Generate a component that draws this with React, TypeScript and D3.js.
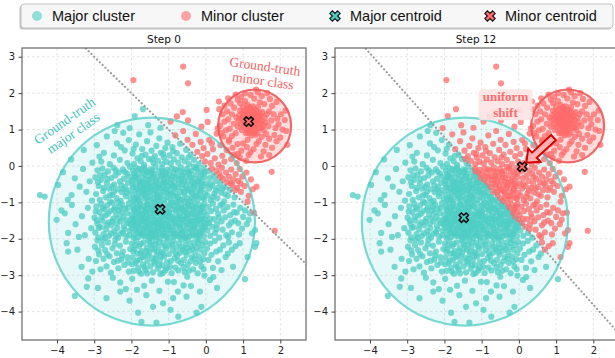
import * as d3 from "d3";
import React, { useRef, useEffect } from "react";

type Pt = [number, number];

// ground-truth major class (y > 0)
const majorTop: Pt[] = [
  [-2.38,1.12],[-1.91,1.37],[-1.69,1.56],[-1.55,1.12],[-1.22,1.05],[-0.95,1.22],[-0.78,1.36],[-0.48,1.25],[-0.12,1.08],[0.32,1.03],[-2.05,1.04],[-0.62,1.48],[0.05,1.21],
  [-3.62,0.18],[-3.28,0.44],[-3.05,0.09],
  [-2.93,0.57],[-2.81,0.12],[-2.74,0.36],[-2.66,0.81],[-2.58,0.05],[-2.47,0.29],[-2.39,0.62],[-2.31,0.17],[-2.22,0.91],[-2.18,0.43],[-2.11,0.08],[-2.07,0.71],[-2.45,0.96],[-2.86,0.26],[-2.28,0.52],
  [-1.97,0.34],[-1.93,0.06],[-1.88,0.59],[-1.84,0.21],[-1.79,0.87],[-1.75,0.13],[-1.71,0.46],[-1.66,0.03],[-1.62,0.31],[-1.58,0.68],[-1.53,0.19],[-1.49,0.92],[-1.46,0.42],[-1.41,0.08],
  [-1.37,0.27],[-1.33,0.55],[-1.29,0.14],[-1.25,0.76],[-1.21,0.36],[-1.17,0.05],[-1.13,0.23],[-1.09,0.49],[-1.06,0.11],[-1.03,0.64],[-1.94,0.47],[-1.72,0.28],[-1.44,0.19],[-1.15,0.33],
  [-0.98,0.29],[-0.94,0.07],[-0.9,0.52],[-0.86,0.18],[-0.82,0.84],[-0.78,0.35],[-0.74,0.09],[-0.69,0.61],[-0.65,0.24],[-0.61,0.96],[-0.57,0.13],[-0.53,0.44],[-0.49,0.72],
  [-0.45,0.05],[-0.41,0.31],[-0.36,0.58],[-0.32,0.17],[-0.27,0.88],[-0.23,0.39],[-0.19,0.06],[-0.14,0.66],[-0.1,0.27],[-0.06,0.49],[-0.02,0.12],[-0.88,0.41],[-0.47,0.23],
  [0.04,0.33],[0.09,0.71],[0.13,0.08],[0.19,0.46],[0.24,0.21],[0.29,0.89],[0.34,0.04],[0.39,0.57],[0.44,0.28],[0.5,0.12],[0.56,0.43],[0.62,0.67],[0.68,0.19],[0.75,0.31],
  [0.83,0.08],[0.91,0.24],[0.16,0.62],[0.47,0.81],[1.08,0.14],
];

// major class, -1 < y < 0
const majorUpper: Pt[] = [
  [-4.46,-0.8],[-4.33,-0.84],
  [-3.97,-0.52],[-3.84,-0.17],[-3.71,-0.93],[-3.61,-0.8],[-3.52,-0.34],[-3.39,-0.57],[-3.3,-0.08],[-3.21,-0.71],[-3.12,-0.42],[-3.06,-0.95],
  [-2.97,-0.31],[-2.95,-0.77],[-2.91,-0.12],[-2.88,-0.55],[-2.85,-0.93],[-2.81,-0.38],[-2.78,-0.07],[-2.76,-0.69],[-2.72,-0.24],[-2.69,-0.86],[-2.66,-0.47],[-2.63,-0.15],
  [-2.6,-0.62],[-2.57,-0.98],[-2.54,-0.33],[-2.51,-0.79],[-2.48,-0.05],[-2.46,-0.51],[-2.43,-0.26],[-2.4,-0.88],[-2.37,-0.64],[-2.34,-0.18],[-2.31,-0.42],[-2.29,-0.96],
  [-2.26,-0.72],[-2.23,-0.09],[-2.2,-0.35],[-2.17,-0.58],[-2.15,-0.83],[-2.12,-0.21],[-2.09,-0.46],[-2.07,-0.67],[-2.04,-0.02],[-2.02,-0.91],[-2.9,-0.44],[-2.74,-0.6],
  [-2.58,-0.81],[-2.42,-0.12],[-2.27,-0.53],[-2.13,-0.74],[-2.06,-0.29],[-2.52,-0.57],[-2.36,-0.99],[-2.84,-0.26],[-2.65,-0.36],[-2.22,-0.64],[-2.47,-0.71],[-2.18,-0.16],
  [-1.99,-0.41],[-1.98,-0.78],[-1.96,-0.13],[-1.95,-0.59],[-1.93,-0.94],[-1.91,-0.27],[-1.9,-0.68],[-1.88,-0.05],[-1.86,-0.49],[-1.85,-0.85],[-1.83,-0.34],[-1.81,-0.72],
  [-1.8,-0.19],[-1.78,-0.56],[-1.76,-0.97],[-1.75,-0.43],[-1.73,-0.11],[-1.71,-0.81],[-1.7,-0.29],[-1.68,-0.63],[-1.66,-0.04],[-1.65,-0.52],[-1.63,-0.89],[-1.61,-0.37],
  [-1.6,-0.74],[-1.58,-0.16],[-1.56,-0.61],[-1.55,-0.95],[-1.53,-0.25],[-1.51,-0.47],[-1.5,-0.83],[-1.48,-0.09],[-1.46,-0.66],[-1.45,-0.33],[-1.43,-0.91],[-1.41,-0.54],
  [-1.4,-0.21],[-1.38,-0.77],[-1.36,-0.44],[-1.35,-0.02],[-1.33,-0.6],[-1.31,-0.87],[-1.3,-0.3],[-1.28,-0.71],[-1.26,-0.14],[-1.25,-0.51],[-1.23,-0.96],[-1.21,-0.38],
  [-1.2,-0.8],[-1.18,-0.07],[-1.16,-0.57],[-1.15,-0.24],[-1.13,-0.69],[-1.11,-0.93],[-1.1,-0.45],[-1.08,-0.18],[-1.06,-0.62],[-1.05,-0.86],[-1.03,-0.32],[-1.01,-0.75],
  [-1.97,-0.52],[-1.94,-0.36],[-1.89,-0.87],[-1.84,-0.63],[-1.79,-0.08],[-1.74,-0.69],[-1.69,-0.46],[-1.64,-0.22],[-1.59,-0.86],[-1.54,-0.39],[-1.49,-0.58],[-1.44,-0.13],
  [-1.39,-0.97],[-1.34,-0.41],[-1.29,-0.55],[-1.24,-0.84],[-1.19,-0.26],[-1.14,-0.47],[-1.09,-0.72],[-1.04,-0.11],[-1.92,-0.21],[-1.82,-0.92],[-1.72,-0.58],[-1.62,-0.66],
  [-1.52,-0.72],[-1.42,-0.28],[-1.32,-0.79],[-1.22,-0.62],[-1.12,-0.35],[-1.02,-0.55],[-1.87,-0.31],[-1.67,-0.76],[-1.47,-0.19],[-1.27,-0.92],[-1.07,-0.44],[-1.57,-0.5],
  [-1.37,-0.66],[-1.17,-0.14],[-1.77,-0.44],[-1.62,-0.12],
  [-0.99,-0.23],[-0.97,-0.66],[-0.96,-0.91],[-0.94,-0.38],[-0.92,-0.07],[-0.9,-0.54],[-0.88,-0.82],[-0.87,-0.19],[-0.85,-0.45],[-0.83,-0.73],[-0.81,-0.31],[-0.8,-0.98],
  [-0.78,-0.12],[-0.76,-0.58],[-0.74,-0.85],[-0.73,-0.27],[-0.71,-0.49],[-0.69,-0.71],[-0.67,-0.04],[-0.65,-0.36],[-0.64,-0.93],[-0.62,-0.62],[-0.6,-0.17],[-0.58,-0.43],
  [-0.57,-0.79],[-0.55,-0.29],[-0.53,-0.55],[-0.51,-0.08],[-0.5,-0.88],[-0.48,-0.4],[-0.46,-0.67],[-0.44,-0.22],[-0.43,-0.96],[-0.41,-0.51],[-0.39,-0.14],[-0.37,-0.76],
  [-0.36,-0.33],[-0.34,-0.6],[-0.32,-0.02],[-0.3,-0.84],[-0.29,-0.46],[-0.27,-0.25],[-0.25,-0.7],[-0.23,-0.1],[-0.22,-0.92],[-0.2,-0.53],[-0.18,-0.35],[-0.16,-0.78],
  [-0.14,-0.18],[-0.13,-0.63],[-0.11,-0.42],[-0.09,-0.87],[-0.07,-0.06],[-0.06,-0.56],[-0.04,-0.3],[-0.02,-0.74],
  [-0.95,-0.47],[-0.89,-0.29],[-0.84,-0.61],[-0.79,-0.84],[-0.72,-0.39],[-0.66,-0.15],[-0.61,-0.5],[-0.56,-0.97],[-0.49,-0.64],[-0.42,-0.31],[-0.38,-0.89],[-0.31,-0.56],
  [-0.26,-0.05],[-0.21,-0.41],[-0.15,-0.68],[-0.1,-0.24],[-0.05,-0.9],[-0.93,-0.75],[-0.82,-0.09],[-0.7,-0.93],[-0.59,-0.72],[-0.47,-0.16],[-0.35,-0.45],[-0.24,-0.83],
  [-0.12,-0.5],[-0.03,-0.16],[-0.86,-0.57],[-0.63,-0.27],[-0.4,-0.71],
  [0.02,-0.48],[0.04,-0.81],[0.06,-0.15],[0.09,-0.62],[0.11,-0.33],[0.13,-0.94],[0.16,-0.07],[0.18,-0.55],[0.21,-0.26],[0.23,-0.76],[0.26,-0.41],[0.28,-0.12],
  [0.31,-0.89],[0.33,-0.6],[0.36,-0.21],[0.38,-0.47],[0.41,-0.73],[0.43,-0.05],[0.46,-0.35],[0.49,-0.97],[0.51,-0.58],[0.54,-0.18],[0.57,-0.44],[0.59,-0.82],
  [0.62,-0.29],[0.65,-0.66],[0.68,-0.1],[0.71,-0.52],[0.74,-0.37],[0.77,-0.86],[0.8,-0.22],[0.84,-0.6],[0.87,-0.41],[0.91,-0.08],[0.94,-0.71],[0.98,-0.29],
  [0.12,-0.5],[0.27,-0.68],[0.39,-0.3],[0.52,-0.78],[0.66,-0.48],[0.79,-0.66],[0.93,-0.48],[0.19,-0.85],[0.45,-0.62],
  [1.04,-0.55],[1.09,-0.18],[1.15,-0.82],[1.21,-0.37],[1.26,-0.64],[1.36,-0.57],[1.12,-0.98],[1.77,-0.16],
];

// major class, -2 < y < -1 (densest band)
const majorMiddle: Pt[] = [
  [-4.01,-1.48],[-3.88,-1.22],[-3.79,-1.3],[-3.7,-1.84],[-3.6,-1.07],[-3.5,-1.6],[-3.41,-1.95],[-3.33,-1.38],[-3.25,-1.9],[-3.17,-1.15],[-3.08,-1.71],
  [-2.99,-1.42],[-2.97,-1.83],[-2.94,-1.11],[-2.91,-1.59],[-2.89,-1.96],[-2.86,-1.27],[-2.83,-1.68],[-2.81,-1.04],[-2.78,-1.5],[-2.75,-1.87],[-2.73,-1.19],[-2.7,-1.36],
  [-2.68,-1.74],[-2.65,-1.08],[-2.62,-1.55],[-2.6,-1.92],[-2.57,-1.24],[-2.54,-1.63],[-2.52,-1.01],[-2.49,-1.45],[-2.46,-1.79],[-2.44,-1.14],[-2.41,-1.33],[-2.38,-1.71],
  [-2.36,-1.97],[-2.33,-1.22],[-2.3,-1.52],[-2.28,-1.86],[-2.25,-1.06],[-2.22,-1.4],[-2.2,-1.65],[-2.17,-1.17],[-2.14,-1.93],[-2.12,-1.3],[-2.09,-1.57],[-2.07,-1.03],
  [-2.04,-1.77],[-2.02,-1.46],[-2.96,-1.25],[-2.88,-1.7],[-2.8,-1.4],[-2.71,-1.97],[-2.63,-1.31],[-2.55,-1.85],[-2.47,-1.2],[-2.39,-1.58],[-2.31,-1.12],[-2.23,-1.82],
  [-2.15,-1.49],[-2.06,-1.9],[-2.93,-1.5],[-2.77,-1.15],[-2.67,-1.62],[-2.51,-1.52],[-2.42,-1.9],[-2.34,-1.43],[-2.26,-1.28],[-2.19,-1.74],[-2.1,-1.15],[-2.03,-1.6],
  [-1.99,-1.33],[-1.98,-1.72],[-1.96,-1.08],[-1.95,-1.51],[-1.93,-1.89],[-1.92,-1.21],[-1.9,-1.64],[-1.89,-1.02],[-1.87,-1.43],[-1.86,-1.8],[-1.84,-1.16],[-1.83,-1.57],
  [-1.81,-1.95],[-1.8,-1.28],[-1.78,-1.69],[-1.77,-1.05],[-1.75,-1.48],[-1.74,-1.86],[-1.72,-1.2],[-1.71,-1.61],[-1.69,-1.36],[-1.68,-1.76],[-1.66,-1.11],[-1.65,-1.53],
  [-1.63,-1.92],[-1.62,-1.25],[-1.6,-1.67],[-1.59,-1.04],[-1.57,-1.44],[-1.56,-1.83],[-1.54,-1.17],[-1.53,-1.59],[-1.51,-1.97],[-1.5,-1.31],[-1.48,-1.73],[-1.47,-1.09],
  [-1.45,-1.5],[-1.44,-1.88],[-1.42,-1.23],[-1.41,-1.63],[-1.39,-1.01],[-1.38,-1.41],[-1.36,-1.79],[-1.35,-1.14],[-1.33,-1.56],[-1.32,-1.94],[-1.3,-1.29],[-1.29,-1.7],
  [-1.27,-1.07],[-1.26,-1.47],[-1.24,-1.85],[-1.23,-1.35],[-1.21,-1.62],[-1.2,-1.13],[-1.18,-1.53],[-1.17,-1.91],[-1.15,-1.26],[-1.14,-1.68],[-1.12,-1.03],[-1.11,-1.45],
  [-1.09,-1.82],[-1.08,-1.19],[-1.06,-1.6],[-1.05,-1.97],[-1.03,-1.38],[-1.02,-1.75],[-1.0,-1.1],
  [-1.97,-1.45],[-1.94,-1.97],[-1.91,-1.36],[-1.88,-1.74],[-1.85,-1.29],[-1.82,-1.67],[-1.79,-1.12],[-1.76,-1.87],[-1.73,-1.42],[-1.7,-1.82],[-1.67,-1.3],[-1.64,-1.71],
  [-1.61,-1.18],[-1.58,-1.55],[-1.55,-1.9],[-1.52,-1.4],[-1.49,-1.6],[-1.46,-1.16],[-1.43,-1.78],[-1.4,-1.34],[-1.37,-1.93],[-1.34,-1.48],[-1.31,-1.13],[-1.28,-1.78],
  [-1.25,-1.55],[-1.22,-1.98],[-1.19,-1.4],[-1.16,-1.74],[-1.13,-1.33],[-1.1,-1.58],[-1.07,-1.91],[-1.04,-1.24],[-1.01,-1.52],[-1.95,-1.18],[-1.86,-1.58],[-1.77,-1.35],
  [-1.68,-1.92],[-1.59,-1.27],[-1.5,-1.84],[-1.41,-1.54],[-1.32,-1.66],[-1.23,-1.1],[-1.14,-1.86],[-1.05,-1.3],[-1.9,-1.48],[-1.72,-1.52],[-1.54,-1.72],[-1.36,-1.25],
  [-1.18,-1.67],[-1.09,-1.37],[-1.63,-1.44],[-1.45,-1.97],[-1.27,-1.58],[-1.81,-1.83],[-1.99,-1.6],[-1.0,-1.65],[-1.38,-1.86],[-1.56,-1.06],
  [-0.99,-1.27],[-0.98,-1.69],[-0.96,-1.05],[-0.95,-1.48],[-0.93,-1.86],[-0.92,-1.18],[-0.9,-1.61],[-0.89,-1.39],[-0.87,-1.77],[-0.86,-1.1],[-0.84,-1.52],[-0.83,-1.93],
  [-0.81,-1.25],[-0.8,-1.66],[-0.78,-1.03],[-0.77,-1.43],[-0.75,-1.82],[-0.74,-1.15],[-0.72,-1.57],[-0.71,-1.95],[-0.69,-1.31],[-0.68,-1.72],[-0.66,-1.08],[-0.65,-1.49],
  [-0.63,-1.88],[-0.62,-1.2],[-0.6,-1.63],[-0.59,-1.37],[-0.57,-1.79],[-0.56,-1.12],[-0.54,-1.55],[-0.53,-1.96],[-0.51,-1.28],[-0.5,-1.7],[-0.48,-1.04],[-0.47,-1.45],
  [-0.45,-1.84],[-0.44,-1.17],[-0.42,-1.6],[-0.41,-1.34],[-0.39,-1.76],[-0.38,-1.09],[-0.36,-1.51],[-0.35,-1.91],[-0.33,-1.23],[-0.32,-1.65],[-0.3,-1.02],[-0.29,-1.42],
  [-0.27,-1.81],[-0.26,-1.14],[-0.24,-1.57],[-0.23,-1.98],[-0.21,-1.3],[-0.2,-1.73],[-0.18,-1.07],[-0.17,-1.47],[-0.15,-1.87],[-0.14,-1.21],[-0.12,-1.62],[-0.11,-1.38],
  [-0.09,-1.78],[-0.08,-1.11],[-0.06,-1.54],[-0.05,-1.93],[-0.03,-1.26],[-0.02,-1.68],
  [-0.97,-1.35],[-0.94,-1.76],[-0.91,-1.0],[-0.88,-1.44],[-0.85,-1.85],[-0.82,-1.58],[-0.79,-1.2],[-0.76,-1.9],[-0.73,-1.38],[-0.7,-1.64],[-0.67,-1.16],[-0.64,-1.8],
  [-0.61,-1.47],[-0.58,-1.24],[-0.55,-1.98],[-0.52,-1.41],[-0.49,-1.6],[-0.46,-1.1],[-0.43,-1.92],[-0.4,-1.52],[-0.37,-1.31],[-0.34,-1.72],[-0.31,-1.18],[-0.28,-1.88],
  [-0.25,-1.36],[-0.22,-1.5],[-0.19,-1.92],[-0.16,-1.28],[-0.13,-1.8],[-0.1,-1.45],[-0.07,-1.66],[-0.04,-1.04],[-0.01,-1.47],[-0.9,-1.94],[-0.7,-1.46],[-0.5,-1.34],
  [-0.3,-1.6],[-0.1,-1.16],[-0.6,-1.92],
  [0.02,-1.35],[0.04,-1.77],[0.07,-1.12],[0.09,-1.56],[0.12,-1.92],[0.14,-1.24],[0.17,-1.67],[0.19,-1.03],[0.22,-1.46],[0.25,-1.84],[0.27,-1.18],[0.3,-1.6],
  [0.33,-1.31],[0.36,-1.97],[0.39,-1.08],[0.42,-1.52],[0.45,-1.75],[0.48,-1.22],[0.52,-1.41],[0.55,-1.9],[0.58,-1.13],[0.62,-1.63],[0.66,-1.35],[0.7,-1.82],
  [0.74,-1.06],[0.78,-1.5],[0.83,-1.28],[0.87,-1.57],[0.92,-1.15],[0.97,-1.72],[1.0,-1.4],[0.11,-1.45],[0.29,-1.73],[0.44,-1.05],[0.6,-1.95],[0.76,-1.27],
  [0.89,-1.88],[0.05,-1.58],[0.35,-1.42],[0.68,-1.55],
  [1.05,-1.22],[1.1,-1.6],[1.18,-1.3],[1.24,-1.85],[1.29,-1.28],[1.32,-1.76],[1.15,-1.48],[1.85,-1.78],
];

// major class, -3 < y < -2
const majorLower: Pt[] = [
  [-3.74,-2.12],[-3.7,-2.35],[-3.45,-2.3],[-3.34,-2.77],[-3.15,-2.55],[-3.05,-2.9],
  [-2.98,-2.22],[-2.95,-2.61],[-2.91,-2.05],[-2.87,-2.43],[-2.83,-2.84],[-2.79,-2.17],[-2.75,-2.55],[-2.71,-2.31],[-2.67,-2.76],[-2.63,-2.1],[-2.59,-2.48],[-2.55,-2.93],
  [-2.51,-2.26],[-2.47,-2.64],[-2.43,-2.03],[-2.39,-2.4],[-2.35,-2.81],[-2.31,-2.19],[-2.27,-2.57],[-2.23,-2.35],[-2.19,-2.72],[-2.15,-2.08],[-2.11,-2.5],[-2.07,-2.9],
  [-2.03,-2.28],[-2.89,-2.32],[-2.65,-2.42],[-2.45,-2.15],[-2.25,-2.46],[-2.09,-2.65],[-2.77,-2.02],[-2.37,-2.6],
  [-1.99,-2.13],[-1.97,-2.52],[-1.94,-2.88],[-1.92,-2.29],[-1.89,-2.66],[-1.87,-2.05],[-1.84,-2.41],[-1.82,-2.79],[-1.79,-2.2],[-1.77,-2.57],[-1.74,-2.96],[-1.72,-2.34],
  [-1.69,-2.71],[-1.67,-2.1],[-1.64,-2.47],[-1.62,-2.85],[-1.59,-2.25],[-1.57,-2.62],[-1.54,-2.03],[-1.52,-2.38],[-1.49,-2.76],[-1.47,-2.16],[-1.44,-2.53],[-1.42,-2.92],
  [-1.39,-2.3],[-1.37,-2.68],[-1.34,-2.07],[-1.32,-2.44],[-1.29,-2.82],[-1.27,-2.22],[-1.24,-2.59],[-1.22,-2.97],[-1.19,-2.36],[-1.17,-2.73],[-1.14,-2.12],[-1.12,-2.49],
  [-1.09,-2.87],[-1.07,-2.27],[-1.04,-2.64],[-1.02,-2.04],[-1.95,-2.35],[-1.85,-2.6],[-1.75,-2.14],[-1.65,-2.78],[-1.55,-2.46],[-1.45,-2.27],[-1.35,-2.55],[-1.25,-2.09],
  [-1.15,-2.41],[-1.05,-2.8],[-1.9,-2.18],[-1.7,-2.5],[-1.5,-2.11],[-1.3,-2.35],[-1.1,-2.2],[-1.8,-2.9],[-1.6,-2.34],[-1.4,-2.62],[-1.2,-2.48],[-1.98,-2.7],
  [-1.58,-2.95],[-1.36,-2.16],[-1.16,-2.94],[-1.76,-2.4],[-1.26,-2.72],
  [-0.99,-2.42],[-0.97,-2.18],[-0.94,-2.61],[-0.92,-2.94],[-0.89,-2.31],[-0.87,-2.07],[-0.84,-2.53],[-0.82,-2.79],[-0.79,-2.24],[-0.77,-2.46],[-0.74,-2.87],[-0.72,-2.12],
  [-0.69,-2.38],[-0.67,-2.67],[-0.64,-2.02],[-0.62,-2.29],[-0.59,-2.58],[-0.57,-2.91],[-0.54,-2.15],[-0.52,-2.44],[-0.49,-2.72],[-0.47,-2.06],[-0.44,-2.33],[-0.42,-2.62],
  [-0.39,-2.2],[-0.37,-2.5],[-0.34,-2.84],[-0.32,-2.1],[-0.29,-2.37],[-0.27,-2.66],[-0.24,-2.23],[-0.22,-2.95],[-0.19,-2.48],[-0.17,-2.04],[-0.14,-2.3],[-0.12,-2.76],
  [-0.09,-2.17],[-0.07,-2.56],[-0.04,-2.4],[-0.02,-2.09],[-0.96,-2.77],[-0.81,-2.4],[-0.66,-2.22],[-0.51,-2.25],[-0.36,-2.27],[-0.21,-2.12],[-0.06,-2.83],[-0.9,-2.15],
  [-0.6,-2.78],[-0.3,-2.54],[-0.75,-2.6],[-0.45,-2.88],[-0.15,-2.62],[-0.55,-2.36],
  [0.03,-2.27],[0.07,-2.58],[0.11,-2.13],[0.15,-2.44],[0.19,-2.8],[0.24,-2.06],[0.28,-2.35],[0.33,-2.62],[0.38,-2.3],[0.42,-2.86],[0.47,-2.18],[0.53,-2.5],
  [0.59,-2.41],[0.62,-2.1],[0.7,-2.3],[0.73,-2.77],[0.8,-2.2],[0.91,-2.12],[1.32,-2.22],[1.36,-2.12],[1.12,-2.5],
];

// major class, y < -3
const majorBottom: Pt[] = [
  [-3.52,-3.57],[-3.16,-3.09],[-3.2,-3.32],[-2.9,-3.35],[-2.67,-3.63],[-2.5,-3.07],[-2.3,-3.45],[-2.3,-3.2],[-2.05,-3.7],[-1.98,-3.1],[-1.82,-4.03],[-1.73,-4.28],
  [-1.66,-3.29],[-1.6,-3.55],[-1.42,-3.87],[-1.33,-4.3],[-1.25,-3.43],[-1.15,-3.77],[-1.02,-3.18],[-0.95,-3.95],[-0.88,-3.63],[-0.86,-3.19],[-0.74,-4.14],[-0.6,-3.28],
  [-0.52,-3.59],[-0.5,-3.04],[-0.4,-3.3],[-0.25,-4.03],[-0.16,-3.45],[-0.12,-3.87],[-0.04,-3.01],[0.11,-3.13],[0.3,-3.35],[1.05,-3.11],[-2.15,-3.38],[-1.45,-3.15],
  [-0.75,-3.45],[-1.85,-3.4],[0.2,-3.05],
];

// ground-truth minor class: compact core and its halo
const minorCore: Pt[] = [
  [1.2,1.15],[1.14,1.28],[1.27,1.31],[1.08,1.19],[1.31,1.09],[1.22,1.4],[1.05,1.33],[1.36,1.22],[1.17,1.04],[1.11,1.37],[1.29,1.46],[1.41,1.3],
  [0.99,1.24],[1.24,1.0],[1.13,1.12],[1.33,1.17],[1.02,1.08],[1.46,1.16],[1.19,1.5],[1.07,1.44],[1.38,1.4],[1.26,1.23],[1.16,1.21],[0.95,1.31],
  [1.43,1.05],[1.1,0.97],[1.3,0.96],[1.5,1.26],[0.93,1.15],[1.21,1.58],[1.35,1.52],[1.04,1.52],[1.47,1.39],[0.9,1.4],[1.55,1.12],[1.15,0.9],
  [1.39,0.92],[1.26,1.64],[0.97,0.99],[1.52,1.48],[1.18,1.33],[1.23,1.18],[1.12,1.24],[1.28,1.14],[1.09,1.3],[1.32,1.36],[1.2,1.07],[1.06,1.14],
  [1.37,1.27],[1.14,1.45],[1.25,1.06],[1.44,1.22],[1.01,1.39],[1.3,1.55],[1.17,1.62],[0.88,1.25],[1.58,1.33],[1.42,1.47],[1.08,0.9],[1.34,0.86],
  [1.6,1.2],[0.86,1.08],[1.12,1.68],[1.4,1.62],[0.92,1.52],[1.55,0.98],[1.22,0.84],[0.82,1.33],[1.63,1.42],[1.0,1.62],[1.16,1.38],[1.27,1.42],
  [1.04,1.26],[1.35,1.03],[1.19,0.96],[1.45,1.33],[1.1,1.56],[0.98,1.45],[1.5,1.05],[1.28,0.9],
];

const minorHalo: Pt[] = [
  [0.75,1.16],[1.68,1.1],[1.05,1.78],[1.45,1.75],[0.8,0.9],[1.7,1.5],[0.92,1.72],[1.5,0.8],[1.12,0.72],[1.3,1.85],[0.7,1.42],[1.76,1.25],
  [0.86,1.82],[1.62,0.88],[1.42,0.68],[1.2,1.95],[0.64,1.02],[1.82,1.42],[1.0,0.62],[1.57,1.7],[0.76,1.6],[1.7,0.75],[1.36,0.6],[0.6,1.28],
  [1.87,1.04],[1.1,0.52],[0.7,0.82],[1.92,1.3],[0.57,1.5],[1.5,1.92],[0.95,1.9],[1.78,1.65],[1.28,0.46],[0.54,0.98],[1.95,1.14],[0.85,0.6],
  [1.6,0.58],[0.66,1.72],[1.84,0.85],[1.05,2.0],[1.4,2.02],[0.5,1.22],[2.02,1.42],[0.62,0.72],[1.72,1.84],[1.2,0.38],[0.45,1.42],[1.9,0.68],
  [0.8,1.96],[2.06,1.0],[1.55,0.4],[0.95,0.42],[0.42,0.9],[2.12,1.26],[1.65,2.0],[0.5,1.66],[1.35,2.1],[2.0,0.78],[0.72,0.5],[1.78,0.5],
  [0.38,1.1],[2.14,1.52],[1.15,0.3],[0.6,1.86],[1.9,1.76],[1.48,0.26],[0.86,0.33],[2.16,0.96],[0.36,1.56],[1.7,0.3],
];

// loose points far from either cluster
const strayPoints: Pt[] = [
  [-1.95,2.36],[-0.61,2.73],[-0.48,2.27],[0.35,1.77],[2.19,0.58],[0.02,1.54],
];

const xTicks = [-4, -3, -2, -1, 0, 1, 2];
const yTicks = [-4, -3, -2, -1, 0, 1, 2, 3];
const stepTitles = ["Step 0", "Step 12"];
const majorCentroids: Pt[] = [[-1.23, -1.19], [-1.48, -1.42]];
const minorCentroids: Pt[] = [[1.15, 1.22], [0.09, -0.02]];
const boundaries: [Pt, Pt][] = [
  [[-3.3, 3.3], [2.8, -2.8]],
  [[-4.18, 3.3], [2.65, -4.56]],
];
const legendLabels = ["Major cluster", "Minor cluster", "Major centroid", "Minor centroid"];
const majorRegion = { cx: -1.45, cy: -1.53, rx: 2.77, ry: 2.855 };
const minorRegion = { cx: 1.31, cy: 1.1, rx: 0.98, ry: 1.0 };
const shiftArrow: [Pt, Pt] = [[0.93, 0.78], [0.2, 0.09]];

const xDomain = [-4.94, 2.69];
const yDomain = [-4.78, 3.24];
const TEAL = "#4ecdc4";
const RED = "#ff6b6b";
const panelLefts = [22, 335];
const plotW = 284;
const plotTop = 48;
const plotH = 292;

// matplotlib style filled "X" marker
const xMarkerPath = (s: number) => {
  const a = s / 2;
  const b = s / 6;
  const pts: Pt[] = [[-b,-a],[b,-a],[b,-b],[a,-b],[a,b],[b,b],[b,a],[-b,a],[-b,b],[-a,b],[-a,-b],[-b,-b]];
  const c = Math.SQRT1_2;
  return "M" + pts.map(([px, py]) => `${((px - py) * c).toFixed(2)},${((px + py) * c).toFixed(2)}`).join("L") + "Z";
};

export default function App() {
  const ref = useRef<SVGSVGElement>(null);

  useEffect(() => {
    const svg = d3.select(ref.current);
    svg.selectAll("*").remove();

    const y = d3.scaleLinear().domain(yDomain).range([plotTop + plotH, plotTop]);
    const allPoints = [
      ...majorTop, ...majorUpper, ...majorMiddle, ...majorLower, ...majorBottom,
      ...minorCore, ...minorHalo, ...strayPoints,
    ];

    stepTitles.forEach((title, i) => {
      const left = panelLefts[i];
      const x = d3.scaleLinear().domain(xDomain).range([left, left + plotW]);
      const g = svg.append("g");

      g.append("clipPath").attr("id", "clip" + i)
        .append("rect").attr("x", left).attr("y", plotTop).attr("width", plotW).attr("height", plotH);
      const plot = g.append("g").attr("clip-path", `url(#clip${i})`);

      // grid
      const grid = plot.append("g");
      grid.selectAll(".gx").data(xTicks).join("line")
        .attr("x1", d => x(d)).attr("x2", d => x(d))
        .attr("y1", plotTop).attr("y2", plotTop + plotH);
      grid.selectAll(".gy").data(yTicks).join("line")
        .attr("x1", left).attr("x2", left + plotW)
        .attr("y1", d => y(d)).attr("y2", d => y(d));
      grid.selectAll("line")
        .attr("stroke", "#d8d8d8").attr("stroke-width", 0.7).attr("stroke-dasharray", "2.5,2.5");

      const kx = x(1) - x(0);
      const ky = y(0) - y(1);
      const regions = [
        { r: majorRegion, fill: TEAL, fo: 0.14, stroke: TEAL, so: 0.75 },
        { r: minorRegion, fill: RED, fo: 0.22, stroke: "#f05a5a", so: 0.9 },
      ];
      plot.append("g").selectAll("ellipse").data(regions).join("ellipse")
        .attr("cx", d => x(d.r.cx)).attr("cy", d => y(d.r.cy))
        .attr("rx", d => d.r.rx * kx).attr("ry", d => d.r.ry * ky)
        .attr("fill", d => d.fill).attr("fill-opacity", d => d.fo);

      // points coloured by side of the boundary
      const [a, b] = boundaries[i];
      const isMinor = (p: Pt) => (p[0] - a[0]) * (b[1] - a[1]) - (p[1] - a[1]) * (b[0] - a[0]) < 0;
      const groups = [
        { pts: allPoints.filter(p => !isMinor(p)), color: TEAL },
        { pts: allPoints.filter(isMinor), color: RED },
      ];
      groups.forEach(grp => {
        plot.append("g").selectAll("circle").data(grp.pts).join("circle")
          .attr("cx", d => x(d[0])).attr("cy", d => y(d[1])).attr("r", 3.1)
          .attr("fill", grp.color).attr("fill-opacity", 0.75);
      });

      // decision boundary
      plot.append("line")
        .attr("x1", x(a[0])).attr("y1", y(a[1])).attr("x2", x(b[0])).attr("y2", y(b[1]))
        .attr("stroke", "#9a9a9a").attr("stroke-width", 2.2)
        .attr("stroke-dasharray", "0.01,3.9").attr("stroke-linecap", "round");

      plot.append("g").selectAll("ellipse").data(regions).join("ellipse")
        .attr("cx", d => x(d.r.cx)).attr("cy", d => y(d.r.cy))
        .attr("rx", d => d.r.rx * kx).attr("ry", d => d.r.ry * ky)
        .attr("fill", "none").attr("stroke", d => d.stroke)
        .attr("stroke-opacity", d => d.so).attr("stroke-width", 2.2);

      // centroids
      const cents = [
        { p: majorCentroids[i], color: TEAL },
        { p: minorCentroids[i], color: RED },
      ];
      plot.append("g").selectAll("path").data(cents).join("path")
        .attr("d", xMarkerPath(10))
        .attr("transform", d => `translate(${x(d.p[0])},${y(d.p[1])})`)
        .attr("fill", d => d.color).attr("stroke", "#111").attr("stroke-width", 1.6)
        .attr("stroke-linejoin", "round");

      if (i === 0) {
        const ga = g.append("g")
          .attr("transform", `translate(${x(-3.68)},${y(1.07)}) rotate(-35)`)
          .attr("font-family", "'Liberation Serif', 'DejaVu Serif', serif")
          .attr("font-size", 13.5).attr("fill", "#45c6bd").attr("text-anchor", "middle");
        ga.append("text").attr("y", -3).text("Ground-truth");
        ga.append("text").attr("y", 12).text("major class");

        const gb = g.append("g")
          .attr("transform", `translate(${x(1.56)},${y(2.53)}) rotate(8)`)
          .attr("font-family", "'Liberation Serif', 'DejaVu Serif', serif")
          .attr("font-size", 13.5).attr("fill", "#f26464").attr("text-anchor", "middle");
        gb.append("text").attr("y", -3).text("Ground-truth");
        gb.append("text").attr("y", 11.5).text("minor class");
      } else {
        const cx = x(-0.36);
        const cy = y(1.67);
        g.append("rect")
          .attr("x", cx - 27).attr("y", cy - 16).attr("width", 54).attr("height", 31).attr("rx", 4)
          .attr("fill", "#ffe3e3").attr("fill-opacity", 0.9);
        const gt = g.append("g")
          .attr("font-family", "'Liberation Serif', 'DejaVu Serif', serif")
          .attr("font-size", 13).attr("font-weight", "bold").attr("fill", "#ff6b6b").attr("text-anchor", "middle");
        gt.append("text").attr("x", cx).attr("y", cy - 4).text("uniform");
        gt.append("text").attr("x", cx).attr("y", cy + 12).text("shift");

        // fat arrow from ground-truth minor circle to the shifted centroid
        const t: Pt = [x(shiftArrow[0][0]), y(shiftArrow[0][1])];
        const h: Pt = [x(shiftArrow[1][0]), y(shiftArrow[1][1])];
        const len = Math.hypot(h[0] - t[0], h[1] - t[1]);
        const u: Pt = [(h[0] - t[0]) / len, (h[1] - t[1]) / len];
        const n: Pt = [-u[1], u[0]];
        const w1 = 3.5, w2 = 9, hl = 11;
        const bs: Pt = [h[0] - u[0] * hl, h[1] - u[1] * hl];
        const poly: Pt[] = [
          [t[0] + n[0] * w1, t[1] + n[1] * w1],
          [bs[0] + n[0] * w1, bs[1] + n[1] * w1],
          [bs[0] + n[0] * w2, bs[1] + n[1] * w2],
          h,
          [bs[0] - n[0] * w2, bs[1] - n[1] * w2],
          [bs[0] - n[0] * w1, bs[1] - n[1] * w1],
          [t[0] - n[0] * w1, t[1] - n[1] * w1],
        ];
        g.append("path")
          .attr("d", "M" + poly.map(p => p.join(",")).join("L") + "Z")
          .attr("fill", "#ffb0b0").attr("stroke", "#d60000").attr("stroke-width", 2)
          .attr("stroke-linejoin", "miter");
      }

      // frame
      g.append("rect")
        .attr("x", left).attr("y", plotTop).attr("width", plotW).attr("height", plotH)
        .attr("fill", "none").attr("stroke", "#666").attr("stroke-width", 1.2);

      // axes
      const fmt = d3.format("d");
      const ax = g.append("g").attr("transform", `translate(0,${plotTop + plotH})`)
        .call(d3.axisBottom(x).tickValues(xTicks).tickSize(3.5).tickPadding(3.5).tickFormat(d => fmt(d as number)));
      const ay = g.append("g").attr("transform", `translate(${left},0)`)
        .call(d3.axisLeft(y).tickValues(yTicks).tickSize(3.5).tickPadding(3.5).tickFormat(d => fmt(d as number)));
      [ax, ay].forEach(axis => {
        axis.select(".domain").remove();
        axis.selectAll("line").attr("stroke", "#444");
        axis.selectAll("text").attr("fill", "#222").attr("font-size", 10)
          .attr("font-family", "'DejaVu Sans', sans-serif");
      });

      g.append("text")
        .attr("x", left + plotW / 2 - (i === 1 ? 1 : 0)).attr("y", 43)
        .attr("text-anchor", "middle").attr("font-family", "'DejaVu Sans', sans-serif")
        .attr("font-size", 10.5).attr("fill", "#111").text(title);
    });

    // legend
    const lg = svg.append("g");
    lg.append("rect").attr("x", 19.5).attr("y", 5.5).attr("width", 592).attr("height", 24).attr("rx", 3)
      .attr("fill", "#9a9a9a").attr("fill-opacity", 0.6);
    lg.append("rect").attr("x", 21).attr("y", 4).attr("width", 592).attr("height", 24).attr("rx", 3)
      .attr("fill", "#f7f7f7").attr("stroke", "#c4c4c4").attr("stroke-width", 1);
    const markerX = [37, 186, 335, 490];
    legendLabels.forEach((label, k) => {
      const mx = markerX[k];
      const color = k % 2 === 0 ? TEAL : RED;
      if (k < 2) {
        lg.append("circle").attr("cx", mx).attr("cy", 16).attr("r", 5)
          .attr("fill", color).attr("fill-opacity", 0.6);
      } else {
        lg.append("path").attr("d", xMarkerPath(11))
          .attr("transform", `translate(${mx},16)`)
          .attr("fill", color).attr("stroke", "#111").attr("stroke-width", 1.1);
      }
      lg.append("text").attr("x", mx + 15).attr("y", 21)
        .attr("font-family", "'Liberation Sans', Arial, sans-serif").attr("font-size", 14.5)
        .attr("fill", "#111").text(label);
    });
  }, []);

  return (
    <svg
      ref={ref}
      width={615}
      height={358}
      style={{ position: "absolute", left: 0, top: 0, background: "#fff" }}
    />
  );
}
